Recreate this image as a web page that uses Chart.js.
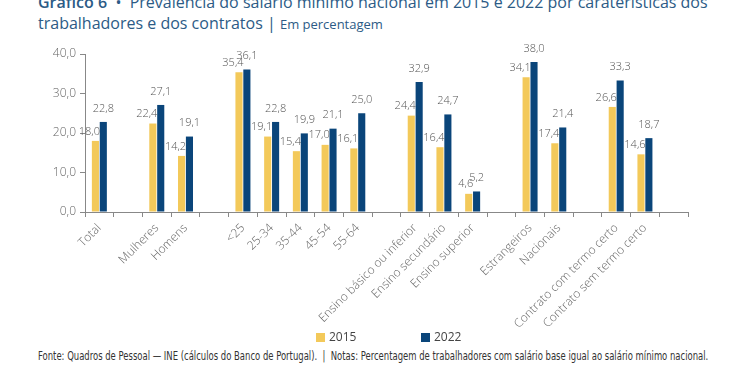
<!DOCTYPE html>
<html>
<head>
<meta charset="utf-8">
<script src="https://cdn.jsdelivr.net/npm/chart.js@4"></script>
<style>
  body { margin: 0; background: #fff; width: 750px; height: 375px; overflow: hidden; position: relative; font-family: "Open Sans", sans-serif; }
  #title { position: absolute; left: 38px; top: -8px; font-size: 16px; line-height: 21px; color: #2c5b86; white-space: nowrap; }
  #title b { font-weight: 600; }
  #title small { font-size: 13px; }
  #wrap { position: absolute; left: 0; top: 40px; width: 750px; height: 290px; }
  #legend { position: absolute; top: 328px; left: 0; width: 750px; font-size: 12px; color: #444; }
  #legend span { position: absolute; white-space: nowrap; }
  #legend i { display: inline-block; width: 9px; height: 9px; margin-right: 4px; vertical-align: -1px; }
  #foot { position: absolute; left: 38px; top: 349px; font-family: "Liberation Sans Narrow", "DejaVu Sans Condensed", sans-serif; font-size: 12px; color: #333; white-space: nowrap; transform-origin: left top; }
</style>
</head>
<body>
<div id="title"><b>Gráfico 6</b> &nbsp;•&nbsp; Prevalência do salário mínimo nacional em 2015 e 2022 por caraterísticas dos<br>trabalhadores e dos contratos | <small>Em percentagem</small></div>
<div id="wrap"><canvas id="salario_chart"></canvas></div>
<div id="legend"></div>
<div id="foot">Fonte: Quadros de Pessoal — INE (cálculos do Banco de Portugal). &nbsp;| &nbsp;Notas: Percentagem de trabalhadores com salário base igual ao salário mínimo nacional.</div>
<script>
// categories (empty strings are the gaps between groups)
var categories = ["Total", "", "Mulheres", "Homens", "", "<25", "25-34", "35-44", "45-54", "55-64", "",
  "Ensino básico ou inferior", "Ensino secundário", "Ensino superior", "",
  "Estrangeiros", "Nacionais", "", "Contrato com termo certo", "Contrato sem termo certo", ""];

var values2015 = [18.0, null, 22.4, 14.2, null, 35.4, 19.1, 15.4, 17.0, 16.1, null,
  24.4, 16.4, 4.6, null, 34.1, 17.4, null, 26.6, 14.6, null];
var values2022 = [22.8, null, 27.1, 19.1, null, 36.1, 22.8, 19.9, 21.1, 25.0, null,
  32.9, 24.7, 5.2, null, 38.0, 21.4, null, 33.3, 18.7, null];

var yTicks = [0, 10, 20, 30, 40];

var seriesNames = ["2015", "2022"];
var seriesColors = ["#f3c95a", "#0a457a"];

function fmt(v) { return v.toFixed(1).replace(".", ","); }

// value labels above the bars
var barLabels = {
  id: "barLabels",
  afterDatasetsDraw: function(chart) {
    var ctx = chart.ctx;
    ctx.save();
    ctx.font = "300 11px 'Open Sans'";
    ctx.fillStyle = "#555";
    ctx.textBaseline = "bottom";
    chart.data.datasets.forEach(function(ds, di) {
      chart.getDatasetMeta(di).data.forEach(function(bar, i) {
        if (ds.data[i] == null) return;
        if (di === 0) {
          ctx.textAlign = "right";
          ctx.fillText(fmt(ds.data[i]), bar.x + bar.width / 2 + 1, bar.y - 4);
        } else {
          ctx.textAlign = "center";
          ctx.fillText(fmt(ds.data[i]), bar.x, bar.y - 8);
        }
      });
    });
    ctx.restore();
  }
};

var speedCanvas = document.getElementById("salario_chart");

var chart = new Chart(speedCanvas, {
  type: "bar",
  data: {
    labels: categories,
    datasets: [
      { label: seriesNames[0], data: values2015, backgroundColor: seriesColors[0] },
      { label: seriesNames[1], data: values2022, backgroundColor: seriesColors[1] }
    ]
  },
  options: {
    responsive: true,
    maintainAspectRatio: false,
    animation: false,
    layout: { padding: { top: 14, right: 62, left: 0, bottom: 0 } },
    datasets: { bar: { categoryPercentage: 0.55, barPercentage: 0.9 } },
    plugins: { legend: { display: false }, tooltip: { enabled: false } },
    scales: {
      x: {
        grid: { drawOnChartArea: false, tickLength: 5, color: "#888", offset: true },
        border: { color: "#888" },
        ticks: { autoSkip: false, minRotation: 45, maxRotation: 45, color: "#666", font: { family: "Open Sans", size: 12, weight: 300 }, padding: 4 },
        afterFit: function(s) { s.height = 118; }
      },
      y: {
        min: 0, max: 40,
        afterBuildTicks: function(s) { s.ticks = yTicks.map(function(v) { return { value: v }; }); },
        grid: { drawOnChartArea: false, tickLength: 5, color: "#888" },
        border: { color: "#888" },
        ticks: { color: "#666", font: { family: "Open Sans", size: 12, weight: 300 }, padding: 4, callback: function(v) { return fmt(v); } },
        afterFit: function(s) { s.width = 85; }
      }
    }
  },
  plugins: [barLabels]
});

// legend built from the series
var legend = document.getElementById("legend");
var legX = [316, 421];
seriesNames.forEach(function(n, i) {
  var s = document.createElement("span");
  s.style.left = legX[i] + "px";
  s.innerHTML = '<i style="background:' + seriesColors[i] + '"></i>' + n;
  legend.appendChild(s);
});

// squeeze footer to reference width
var foot = document.getElementById("foot");
foot.style.transform = "scaleX(" + (670 / foot.scrollWidth) + ")";
</script>
</body>
</html>
